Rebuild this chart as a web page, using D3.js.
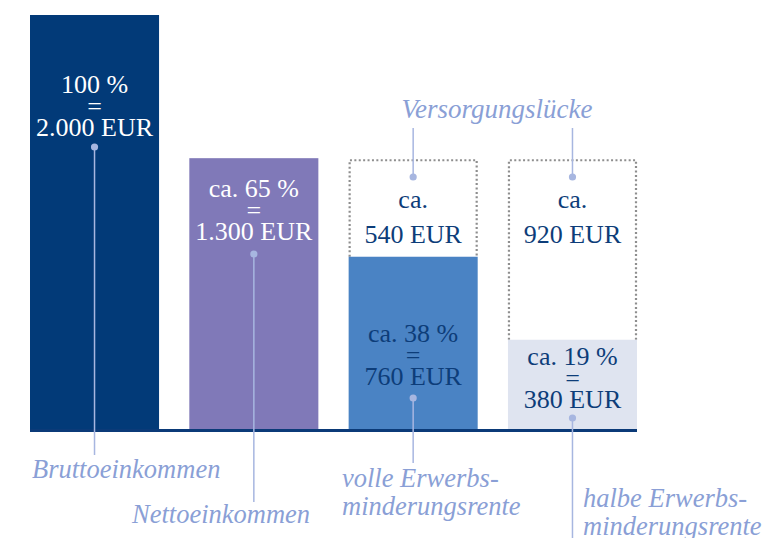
<!DOCTYPE html>
<html>
<head>
<meta charset="utf-8">
<script src="https://cdn.jsdelivr.net/npm/d3@7"></script>
<style>
  html, body { margin: 0; padding: 0; background: #fff; }
</style>
</head>
<body>
<div id="chart"></div>
<script>
/* Einkommen vs. Erwerbsminderungsrente — four bars on a common baseline,
   dotted boxes show the gap ("Versorgungslücke") up to the Netto level. */
const categories = ['brutto', 'netto', 'voll', 'halb'];
const barValues = [2000, 1310, 835, 435];      // bar heights as drawn (EUR scale)
const nettoLevel = 1300;                        // top of the dotted gap boxes
const barLines = [
  ['100 %', '=', '2.000 EUR'],
  ['ca. 65 %', '=', '1.300 EUR'],
  ['ca. 38 %', '=', '760 EUR'],
  ['ca. 19 %', '=', '380 EUR']
];
const gapLines = [null, null, ['ca.', '540 EUR'], ['ca.', '920 EUR']];
const captions = [
  ['Bruttoeinkommen'],
  ['Nettoeinkommen'],
  ['volle Erwerbs-', 'minderungsrente'],
  ['halbe Erwerbs-', 'minderungsrente']
];
const gapTitle = 'Versorgungslücke';

const W = 775, H = 538;
const fills = ['#023a78', '#8079b8', '#4a83c4', '#dfe4f0'];
const textCol = ['#ffffff', '#ffffff', '#0d3d79', '#0d3d79'];
const annoCol = '#8a9fd6', leaderCol = '#a7b6e0', navy = '#0b3a78';
const serif = '"Liberation Serif", "Times New Roman", "DejaVu Serif", serif';

const svg = d3.select('#chart').append('svg').attr('width', W).attr('height', H)
  .attr('font-family', serif);

const x = d3.scaleBand().domain(categories).range([30, 637]).paddingInner(0.19).paddingOuter(0);
const y = d3.scaleLinear().domain([0, 2000]).range([430, 15]);

const data = categories.map((c, i) => ({
  c, i, v: barValues[i], lines: barLines[i], gap: gapLines[i], cap: captions[i]
}));

// dotted gap boxes (behind bars)
svg.append('g').selectAll('path').data(data.filter(d => d.gap)).join('path')
  .attr('d', d => {
    const x0 = x(d.c) + 1, x1 = x(d.c) + x.bandwidth() - 1;
    return `M${x0},${y(d.v)}V${y(nettoLevel)}H${x1}V${y(d.v)}`;
  })
  .attr('fill', 'none').attr('stroke', '#8e8e8e').attr('stroke-width', 2.2)
  .attr('stroke-dasharray', '2,2.4');

// bars
svg.append('g').selectAll('rect').data(data).join('rect')
  .attr('x', d => x(d.c)).attr('width', x.bandwidth())
  .attr('y', d => y(d.v)).attr('height', d => y(0) - y(d.v))
  .attr('fill', (d, i) => fills[i]);

// baseline
svg.append('line').attr('x1', x.range()[0]).attr('x2', x.range()[1])
  .attr('y1', y(0) + 0.5).attr('y2', y(0) + 0.5)
  .attr('stroke', navy).attr('stroke-width', 3);

// label layout: first baseline of value text, dot y, leader end, caption pos
const layout = [
  { t: 93, dot: 147, end: 455, cx: 32, cy: 478 },
  { t: 197, dot: 254, end: 502, cx: 132, cy: 523 },
  { t: 342, dot: 398, end: 463, cx: 342, cy: 487 },
  { t: 365, dot: 418, end: 540, cx: 583, cy: 507 }
];
const cxOf = d => x(d.c) + x.bandwidth() / 2;

// leaders and dots
const lead = svg.append('g');
data.forEach((d, i) => {
  const L = layout[i];
  lead.append('line').attr('x1', cxOf(d)).attr('x2', cxOf(d))
    .attr('y1', L.dot).attr('y2', L.end)
    .attr('stroke', leaderCol).attr('stroke-width', 1.5);
  lead.append('circle').attr('cx', cxOf(d)).attr('cy', L.dot).attr('r', 3.6).attr('fill', leaderCol);
});

// value text in bars
data.forEach((d, i) => {
  const t = svg.append('text').attr('text-anchor', 'middle')
    .attr('font-size', 26).attr('fill', textCol[i]);
  d.lines.forEach((s, k) => {
    t.append('tspan').attr('x', cxOf(d)).attr('y', layout[i].t + k * 21.5).text(s);
  });
});

// gap text
data.filter(d => d.gap).forEach(d => {
  const t = svg.append('text').attr('text-anchor', 'middle')
    .attr('font-size', 26).attr('fill', '#0d3d79');
  d.gap.forEach((s, k) => {
    t.append('tspan').attr('x', cxOf(d)).attr('y', 208 + k * 35).text(s);
  });
  lead.append('line').attr('x1', cxOf(d)).attr('x2', cxOf(d))
    .attr('y1', 128).attr('y2', 177)
    .attr('stroke', leaderCol).attr('stroke-width', 1.5);
  lead.append('circle').attr('cx', cxOf(d)).attr('cy', 177).attr('r', 3.6).attr('fill', leaderCol);
});

svg.append('text').attr('x', 497).attr('y', 118)
  .attr('text-anchor', 'middle').attr('font-style', 'italic')
  .attr('font-size', 27).attr('fill', annoCol).text(gapTitle);

// captions under the baseline
data.forEach((d, i) => {
  const t = svg.append('text').attr('font-style', 'italic')
    .attr('font-size', 26.5).attr('fill', annoCol);
  d.cap.forEach((s, k) => {
    t.append('tspan').attr('x', layout[i].cx).attr('y', layout[i].cy + k * 28).text(s);
  });
});
</script>
</body>
</html>
